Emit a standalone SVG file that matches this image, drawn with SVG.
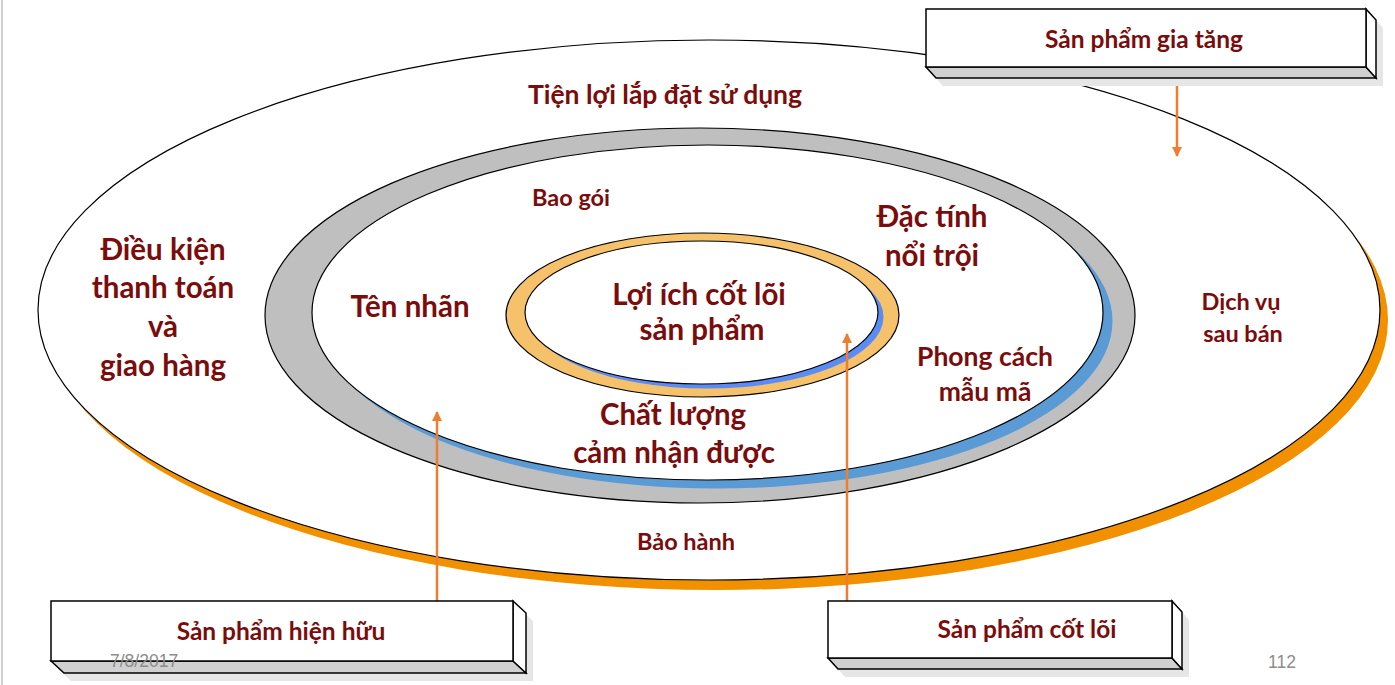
<svg xmlns="http://www.w3.org/2000/svg" width="1395" height="685" viewBox="0 0 1395 685">
<defs>
<style>
.t{font-family:Lato,"Noto Sans","Liberation Sans",sans-serif;font-weight:bold;fill:#7A0C0C;text-anchor:middle}
.big{font-size:29.5px}
.mid{font-size:26.5px}
.sm{font-size:23.5px}
.bx{font-size:24.5px}
.ln{stroke:#000;stroke-width:1.2}
.face{stroke:#000;stroke-width:1.5;stroke-linejoin:miter}
.arr{stroke:#ED7D31;stroke-width:2.5;fill:none}
.foot{font-family:"Liberation Sans",Arial,sans-serif;font-size:17.5px;fill:#8C8C8C}
</style>
<marker id="ah" viewBox="0 0 10 10" refX="9" refY="5" markerWidth="4" markerHeight="4" orient="auto" markerUnits="strokeWidth">
<path d="M0,0 L10,5 L0,10 Z" fill="#ED7D31"/>
</marker>
</defs>
<rect x="0" y="0" width="1395" height="685" fill="#fff"/>
<line x1="2" y1="0" x2="2" y2="685" stroke="#D0D0D0" stroke-width="2"/>

<g id="outer-ring">
<ellipse cx="717" cy="320" rx="671" ry="270" fill="#F29100"/>
<ellipse cx="709" cy="310" rx="671" ry="270" fill="#fff" class="ln"/>
</g>
<g id="middle-ring">
<ellipse cx="700" cy="315.5" rx="435" ry="187.5" fill="#BFBFBF" class="ln"/>
<ellipse cx="717" cy="321" rx="395.5" ry="167.5" fill="#5B9BD5"/>
<ellipse cx="707.5" cy="312.5" rx="395.5" ry="167.5" fill="#fff" class="ln"/>
</g>
<g id="inner-ring">
<ellipse cx="702.5" cy="315" rx="196.5" ry="82" fill="#F5C26B" class="ln"/>
<ellipse cx="707" cy="317" rx="176.5" ry="71.5" fill="#5B8CF5"/>
<ellipse cx="701.5" cy="312.5" rx="176.5" ry="71.5" fill="#fff" class="ln"/>
</g>

<g id="labels">
<text class="t mid" x="665" y="104">Tiện lợi lắp đặt sử dụng</text>
<text class="t sm" x="571" y="206">Bao gói</text>
<text class="t big" x="932" y="227">Đặc tính</text>
<text class="t big" x="932" y="266">nổi trội</text>
<text class="t big" x="163" y="260">Điều kiện</text>
<text class="t big" x="163" y="298">thanh toán</text>
<text class="t big" x="163" y="337">và</text>
<text class="t big" x="163" y="376">giao hàng</text>
<text class="t big" x="410" y="317">Tên nhãn</text>
<text class="t big" x="699" y="305">Lợi ích cốt lõi</text>
<text class="t big" x="702" y="340">sản phẩm</text>
<text class="t mid" x="985" y="366">Phong cách</text>
<text class="t mid" x="985" y="401">mẫu mã</text>
<text class="t sm" x="1241" y="310">Dịch vụ</text>
<text class="t sm" x="1243" y="342">sau bán</text>
<text class="t big" x="673" y="425">Chất lượng</text>
<text class="t big" x="674" y="463">cảm nhận được</text>
<text class="t sm" x="686" y="550">Bảo hành</text>
</g>

<g id="connectors">
<line class="arr" x1="1177" y1="79" x2="1177" y2="156" marker-end="url(#ah)"/>
<line class="arr" x1="437" y1="601" x2="437" y2="412" marker-end="url(#ah)"/>
<line class="arr" x1="847" y1="601" x2="847" y2="334" marker-end="url(#ah)"/>
</g>

<g id="box-gia-tang">
<polygon points="933,17 1373,17 1383,28 1383,86 943,86 933,75" fill="#E6E6E6"/>
<polygon class="face" points="926,67 1366,67 1376,78 936,78" fill="#D0D0D0"/>
<polygon class="face" points="1366,9 1376,20 1376,78 1366,67" fill="#fff"/>
<rect class="face" x="926" y="9" width="440" height="58" fill="#fff"/>
<text class="t bx" x="1144" y="48">Sản phẩm gia tăng</text>
</g>

<g id="box-hien-huu">
<polygon points="58,609 520,609 533,621 533,681 71,681 58,669" fill="#E6E6E6"/>
<polygon class="face" points="51,661 513,661 526,673 64,673" fill="#D0D0D0"/>
<polygon class="face" points="513,601 526,613 526,673 513,661" fill="#fff"/>
<rect class="face" x="51" y="601" width="462" height="60" fill="#fff"/>
<text class="t bx" x="281" y="640">Sản phẩm hiện hữu</text>
</g>

<g id="box-cot-loi">
<polygon points="835,609 1179,609 1189,620 1189,677 845,677 835,666" fill="#E6E6E6"/>
<polygon class="face" points="828,658 1172,658 1182,669 838,669" fill="#D0D0D0"/>
<polygon class="face" points="1172,601 1182,612 1182,669 1172,658" fill="#fff"/>
<rect class="face" x="828" y="601" width="344" height="57" fill="#fff"/>
<text class="t bx" x="1027" y="638">Sản phẩm cốt lõi</text>
</g>

<g id="footer">
<text class="foot" x="110" y="667">7/8/2017</text>
<text class="foot" x="1268" y="668">112</text>
</g>
</svg>
